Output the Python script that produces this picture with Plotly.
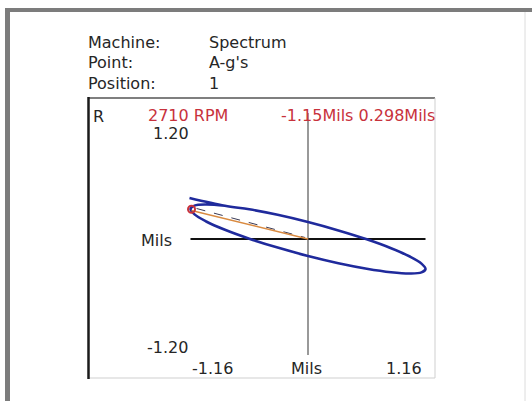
import plotly.graph_objects as go

# ---------------- data ----------------
orbit_x = [-1.17, -0.82, -0.58, -0.30, 0.00, 0.30, 0.58, 0.82, 1.005, 1.12, 1.16,
           1.12, 1.005, 0.82, 0.58, 0.30, 0.00, -0.30, -0.58, -0.82, -1.005, -1.12,
           -1.16, -1.12, -1.005, -0.82]
orbit_y = [0.41, 0.332, 0.297, 0.242, 0.170, 0.086, -0.003, -0.092, -0.175, -0.246, -0.300,
           -0.334, -0.345, -0.332, -0.297, -0.242, -0.170, -0.086, 0.003, 0.092, 0.175, 0.246,
           0.300, 0.334, 0.345, 0.332]
cursor_x = [-1.15]
cursor_y = [0.298]
phase_x = [-1.15, 0.0]
phase_y = [0.285, 0.0]
phase2_x = [-1.10, -0.03]
phase2_y = [0.305, 0.015]
h_axis_x = [-1.16, 1.16]
h_axis_y = [0.0, 0.0]
v_axis_x = [0.0, 0.0]
v_axis_y = [1.26, -1.16]

header_labels = ["Machine:", "Point:", "Position:"]
header_values = ["Spectrum", "A-g's", "1"]
rpm_text = "2710 RPM"
cursor_text = "-1.15Mils 0.298Mils"
y_tick_labels = ["1.20", "-1.20"]
x_tick_labels = ["-1.16", "1.16"]
unit_label = "Mils"
corner_label = "R"

# ---------------- geometry ----------------
W, H = 532, 401
X0, SX = 308.0, 101.3   # pixel of x=0, pixels per unit
Y0, SY = 239.0, 100.0   # pixel of y=0, pixels per unit


def px(x):
    return x / W


def py(y):
    return 1 - y / H


FONT = "DejaVu Sans"
RED = "#c8323c"
TXT = "#262626"

fig = go.Figure()

fig.add_trace(go.Scatter(x=h_axis_x, y=h_axis_y, mode="lines",
                         line=dict(color="#111111", width=2), hoverinfo="skip"))
fig.add_trace(go.Scatter(x=v_axis_x, y=v_axis_y, mode="lines",
                         line=dict(color="#555555", width=1.2), hoverinfo="skip"))
fig.add_trace(go.Scatter(x=orbit_x, y=orbit_y, mode="lines",
                         line=dict(color="#1f2a9c", width=2.6, shape="spline", smoothing=1.0),
                         hoverinfo="skip"))
fig.add_trace(go.Scatter(x=phase2_x, y=phase2_y, mode="lines",
                         line=dict(color="#3a3a55", width=1, dash="dash"), hoverinfo="skip"))
fig.add_trace(go.Scatter(x=phase_x, y=phase_y, mode="lines",
                         line=dict(color="#d98a40", width=1.4), hoverinfo="skip"))
fig.add_trace(go.Scatter(x=cursor_x, y=cursor_y, mode="markers",
                         marker=dict(symbol="circle-open", size=7, color=RED,
                                     line=dict(width=2, color=RED)),
                         hoverinfo="skip"))

shapes = []
# outer gray frame
shapes.append(dict(type="rect", xref="paper", yref="paper", x0=px(5), x1=px(532), y0=py(12), y1=py(8),
                   fillcolor="#7c7c7c", line=dict(width=0)))
shapes.append(dict(type="rect", xref="paper", yref="paper", x0=px(5), x1=px(10), y0=py(401), y1=py(8),
                   fillcolor="#7c7c7c", line=dict(width=0)))
shapes.append(dict(type="line", xref="paper", yref="paper", x0=px(525), x1=px(525), y0=py(401), y1=py(12),
                   line=dict(color="#dcdcdc", width=1)))
# plot box
shapes.append(dict(type="line", xref="paper", yref="paper", x0=px(88), x1=px(435), y0=py(98), y1=py(98),
                   line=dict(color="#555555", width=1.5)))
shapes.append(dict(type="line", xref="paper", yref="paper", x0=px(435), x1=px(435), y0=py(98), y1=py(378),
                   line=dict(color="#cfcfcf", width=1)))
shapes.append(dict(type="line", xref="paper", yref="paper", x0=px(88), x1=px(435), y0=py(378), y1=py(378),
                   line=dict(color="#cfcfcf", width=1)))
shapes.append(dict(type="line", xref="paper", yref="paper", x0=px(88.5), x1=px(88.5), y0=py(97), y1=py(379),
                   line=dict(color="#1a1a1a", width=2.5)))

ann = []


def text(s, x, y, anchor="left", color=TXT, size=16):
    ann.append(dict(text=s, xref="paper", yref="paper", x=px(x), y=py(y), xanchor=anchor,
                    yanchor="middle", showarrow=False, font=dict(family=FONT, size=size, color=color)))


for i, (lab, val) in enumerate(zip(header_labels, header_values)):
    yy = [42, 62.5, 83.5][i]
    text(lab, 86, yy)
    text(val, 207, yy)

text(corner_label, 91, 117)
text(rpm_text, 146, 116, color=RED)
text(cursor_text, 437, 115, anchor="right", color=RED)
text(y_tick_labels[0], 171, 133, anchor="center")
text(unit_label, 174, 240, anchor="right")
text(y_tick_labels[1], 167, 347, anchor="center")
text(x_tick_labels[0], 212, 368, anchor="center")
text(unit_label, 306, 368, anchor="center")
text(x_tick_labels[1], 404, 368, anchor="center")

fig.update_layout(
    width=W, height=H,
    margin=dict(l=0, r=0, t=0, b=0, pad=0),
    paper_bgcolor="white", plot_bgcolor="white",
    showlegend=False,
    xaxis=dict(range=[(0 - X0) / SX, (W - X0) / SX], visible=False, fixedrange=True, domain=[0, 1]),
    yaxis=dict(range=[(Y0 - H) / SY, Y0 / SY], visible=False, fixedrange=True, domain=[0, 1]),
    shapes=shapes,
    annotations=ann,
)

fig.write_html("out.html", config={"displayModeBar": False},
               post_script="document.body.style.margin='0';")
